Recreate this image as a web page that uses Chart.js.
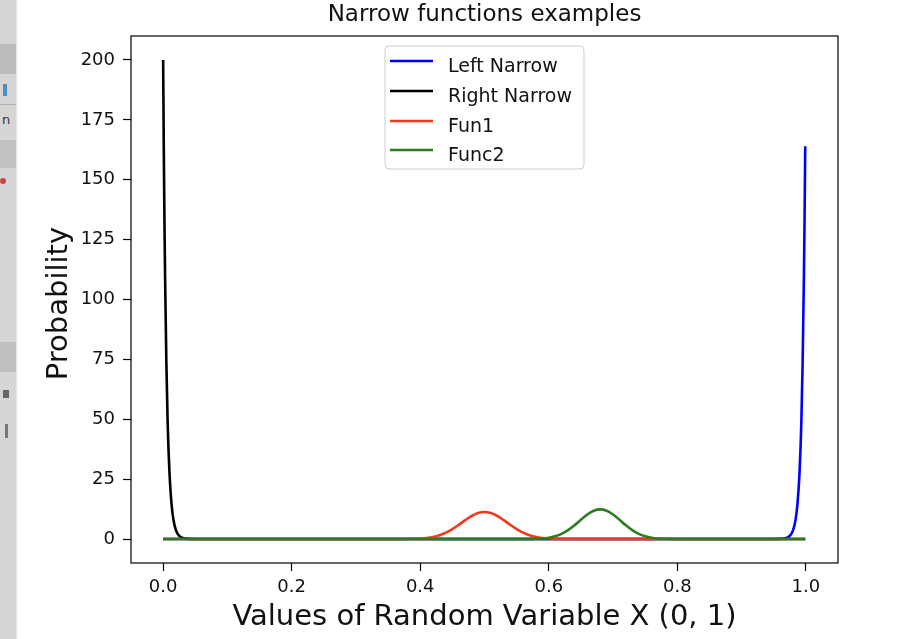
<!DOCTYPE html>
<html>
<head>
<meta charset="utf-8">
<script src="https://cdn.jsdelivr.net/npm/chart.js@4/dist/chart.umd.min.js"></script>
<style>
  html, body { margin: 0; padding: 0; background: #ffffff; }
  #wrap { position: relative; width: 902px; height: 639px; overflow: hidden; background: #fff; }
  #strip { position: absolute; left: 0; top: 0; width: 16px; height: 639px; background: #d6d6d6; border-right: 1px solid #e8e8e8; }
  .blk { position: absolute; left: 0; width: 16px; }
  #c { position: absolute; left: 0; top: 0; }
</style>
</head>
<body>
<div id="wrap">
  <div id="strip">
    <div class="blk" style="top:44px;height:30px;background:#bcbcbc"></div>
    <div class="blk" style="top:84px;height:12px;left:3px;width:4px;background:#4a90c8"></div>
    <div class="blk" style="top:104px;height:1px;background:#b0b0b0"></div>
    <div class="blk" style="top:112px;height:18px;font:13px 'DejaVu Sans';color:#333;left:2px">n</div>
    <div class="blk" style="top:140px;height:28px;background:#c2c2c2"></div>
    <div class="blk" style="top:178px;height:6px;width:6px;left:0;background:#c44;border-radius:3px"></div>
    <div class="blk" style="top:342px;height:30px;background:#c0c0c0"></div>
    <div class="blk" style="top:390px;height:8px;left:3px;width:6px;background:#666"></div>
    <div class="blk" style="top:424px;height:14px;left:5px;width:3px;background:#777"></div>
  </div>
  <canvas id="c" width="902" height="639"></canvas>
</div>
<script>
// ---- data ----
const chartTitle = 'Narrow functions examples';
const xAxisLabel = 'Values of Random Variable X (0, 1)';
const yAxisLabel = 'Probability';
const seriesNames = ['Left Narrow', 'Right Narrow', 'Fun1', 'Func2'];
const seriesColors = ['#0000ff', '#000000', '#f03a20', '#2b7d1f'];

const xTicks = [0.0, 0.2, 0.4, 0.6, 0.8, 1.0];
const yTicks = [0, 25, 50, 75, 100, 125, 150, 175, 200];

const leftNarrowX = [0, 0.2, 0.4, 0.6, 0.8, 0.94, 0.96, 0.97, 0.975, 0.98, 0.984, 0.987, 0.99, 0.993, 0.995, 0.997, 0.998, 0.999];
const leftNarrowY = [0, 0, 0, 0, 0, 0, 0.06, 0.47, 1.3, 3.6, 8.1, 14.8, 27, 49, 74, 110, 134, 164];

const rightNarrowX = [0, 0.001, 0.002, 0.003, 0.005, 0.007, 0.010, 0.013, 0.016, 0.020, 0.025, 0.030, 0.040, 0.060, 0.2, 0.4, 0.6, 0.8, 0.999];
const rightNarrowY = [200, 164, 134, 110, 74, 49, 27, 14.8, 8.1, 3.6, 1.3, 0.47, 0.06, 0, 0, 0, 0, 0, 0];

const fun1X = [0, 0.2, 0.35, 0.38, 0.40, 0.41, 0.42, 0.43, 0.44, 0.45, 0.46, 0.47, 0.48, 0.49, 0.50, 0.51, 0.52, 0.53, 0.54, 0.55, 0.56, 0.57, 0.58, 0.59, 0.60, 0.62, 0.65, 0.8, 0.999];
const fun1Y = [0, 0, 0, 0.035, 0.20, 0.44, 0.86, 1.58, 2.66, 4.14, 5.94, 7.87, 9.62, 10.86, 11.3, 10.86, 9.62, 7.87, 5.94, 4.14, 2.66, 1.58, 0.86, 0.44, 0.20, 0.035, 0, 0, 0];

const func2X = [0, 0.2, 0.4, 0.53, 0.56, 0.58, 0.59, 0.60, 0.61, 0.62, 0.63, 0.64, 0.65, 0.66, 0.67, 0.68, 0.69, 0.70, 0.71, 0.72, 0.73, 0.74, 0.75, 0.76, 0.77, 0.78, 0.80, 0.83, 0.999];
const func2Y = [0, 0, 0, 0, 0.01, 0.10, 0.25, 0.57, 1.17, 2.19, 3.72, 5.74, 8.04, 10.23, 11.82, 12.4, 11.82, 10.23, 8.04, 5.74, 3.72, 2.19, 1.17, 0.57, 0.25, 0.10, 0.01, 0, 0];

const seriesX = [leftNarrowX, rightNarrowX, fun1X, func2X];
const seriesY = [leftNarrowY, rightNarrowY, fun1Y, func2Y];

// ---- chart ----
const FONT = "'DejaVu Sans', 'Liberation Sans', sans-serif";
const PLOT = { left: 131, right: 838, top: 36, bottom: 563 };

const datasets = seriesNames.map((name, i) => ({
  label: name,
  data: seriesX[i].map((x, j) => ({ x: x, y: seriesY[i][j] })),
  borderColor: seriesColors[i],
  backgroundColor: seriesColors[i],
  borderWidth: 2.6,
  pointRadius: 0,
  fill: false,
  cubicInterpolationMode: 'monotone',
  order: seriesNames.length - i
}));

const decorPlugin = {
  id: 'decor',
  afterDraw(chart) {
    const ctx = chart.ctx;
    const a = chart.chartArea;
    ctx.save();
    // frame
    ctx.strokeStyle = '#000';
    ctx.lineWidth = 1.2;
    ctx.strokeRect(a.left, a.top, a.right - a.left, a.bottom - a.top);
    // title
    ctx.fillStyle = '#111';
    ctx.font = '23px ' + FONT;
    ctx.textAlign = 'center';
    ctx.textBaseline = 'alphabetic';
    ctx.fillText(chartTitle, (a.left + a.right) / 2, 21);
    // y axis label
    ctx.save();
    ctx.translate(59, (a.top + a.bottom) / 2 + 4);
    ctx.rotate(-Math.PI / 2);
    ctx.font = '29px ' + FONT;
    ctx.textAlign = 'center';
    ctx.textBaseline = 'middle';
    ctx.fillText(yAxisLabel, 0, 0);
    ctx.restore();
    // legend
    const lx = 385, ly = 46, lw = 199, lh = 123, r = 4;
    ctx.beginPath();
    ctx.moveTo(lx + r, ly);
    ctx.arcTo(lx + lw, ly, lx + lw, ly + lh, r);
    ctx.arcTo(lx + lw, ly + lh, lx, ly + lh, r);
    ctx.arcTo(lx, ly + lh, lx, ly, r);
    ctx.arcTo(lx, ly, lx + lw, ly, r);
    ctx.closePath();
    ctx.fillStyle = 'rgba(255,255,255,0.8)';
    ctx.fill();
    ctx.strokeStyle = '#cccccc';
    ctx.lineWidth = 1;
    ctx.stroke();
    const rows = [61, 91, 121, 150];
    ctx.font = '19px ' + FONT;
    ctx.textAlign = 'left';
    chart.data.datasets.forEach((ds, i) => {
      const y = rows[i];
      ctx.strokeStyle = ds.borderColor;
      ctx.lineWidth = 2.6;
      ctx.beginPath();
      ctx.moveTo(390, y);
      ctx.lineTo(433, y);
      ctx.stroke();
      ctx.fillStyle = '#111';
      ctx.fillText(ds.label, 448, y + 10.5);
    });
    ctx.restore();
  }
};

new Chart(document.getElementById('c'), {
  type: 'line',
  data: { datasets: datasets },
  options: {
    responsive: false,
    animation: false,
    events: [],
    layout: { padding: { left: 0, right: 902 - PLOT.right, top: PLOT.top, bottom: 0 } },
    plugins: { legend: { display: false }, tooltip: { enabled: false }, title: { display: false } },
    scales: {
      x: {
        type: 'linear',
        min: -0.05,
        max: 1.05,
        afterBuildTicks: (s) => { s.ticks = xTicks.map(v => ({ value: v })); },
        afterFit: (s) => { s.height = 639 - PLOT.bottom; },
        ticks: {
          color: '#111',
          font: { family: FONT, size: 18 },
          padding: 6,
          maxRotation: 0,
          autoSkip: false,
          callback: (v) => Number(v).toFixed(1)
        },
        grid: { display: true, drawOnChartArea: false, drawTicks: true, tickLength: 8, tickColor: '#000', tickWidth: 1.2 },
        border: { display: false },
        title: { display: true, text: xAxisLabel, color: '#111', font: { family: FONT, size: 29 }, padding: { top: 0, bottom: 4 } }
      },
      y: {
        type: 'linear',
        min: -10,
        max: 210,
        afterBuildTicks: (s) => { s.ticks = yTicks.map(v => ({ value: v })); },
        afterFit: (s) => { s.width = PLOT.left; },
        ticks: {
          color: '#111',
          font: { family: FONT, size: 18 },
          padding: 8,
          autoSkip: false,
          callback: (v) => String(v)
        },
        grid: { display: true, drawOnChartArea: false, drawTicks: true, tickLength: 8, tickColor: '#000', tickWidth: 1.2 },
        border: { display: false },
        title: { display: false }
      }
    }
  },
  plugins: [decorPlugin]
});
</script>
</body>
</html>
